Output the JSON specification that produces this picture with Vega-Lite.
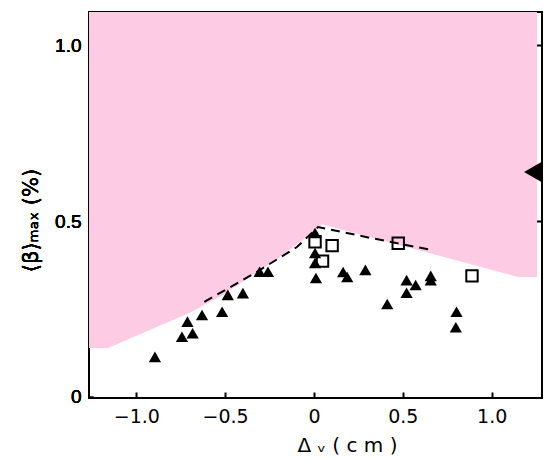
{
  "$schema": "https://vega.github.io/schema/vega-lite/v6.json",
  "autosize": "none",
  "width": 453,
  "height": 386,
  "padding": {"left": 89, "top": 12, "right": 3, "bottom": 61},
  "background": "white",
  "config": {
    "view": {"stroke": "black", "strokeWidth": 2},
    "axis": {"grid": false, "domain": false, "tickColor": "black", "labelColor": "black", "titleColor": "black"}
  },
  "datasets": {
    "stable": [
      {"dv": -1.266, "beta": 0.139},
      {"dv": -1.159, "beta": 0.139},
      {"dv": -0.698, "beta": 0.239},
      {"dv": -0.512, "beta": 0.290},
      {"dv": -0.343, "beta": 0.347},
      {"dv": -0.191, "beta": 0.398},
      {"dv": -0.039, "beta": 0.455},
      {"dv": 0.045, "beta": 0.491},
      {"dv": 1.148, "beta": 0.341},
      {"dv": 1.255, "beta": 0.341}
    ],
    "envelope": [
      {"dv": -0.617, "beta": 0.270},
      {"dv": -0.323, "beta": 0.355},
      {"dv": -0.096, "beta": 0.426},
      {"dv": 0.023, "beta": 0.483},
      {"dv": 0.317, "beta": 0.452},
      {"dv": 0.657, "beta": 0.418}
    ],
    "triangles": [
      {"dv": -0.895, "beta": 0.114},
      {"dv": -0.743, "beta": 0.171},
      {"dv": -0.683, "beta": 0.181},
      {"dv": -0.712, "beta": 0.214},
      {"dv": -0.630, "beta": 0.233},
      {"dv": -0.517, "beta": 0.242},
      {"dv": -0.485, "beta": 0.290},
      {"dv": -0.400, "beta": 0.295},
      {"dv": -0.306, "beta": 0.356},
      {"dv": -0.259, "beta": 0.356},
      {"dv": 0.006, "beta": 0.466},
      {"dv": 0.006, "beta": 0.409},
      {"dv": 0.006, "beta": 0.381},
      {"dv": 0.011, "beta": 0.338},
      {"dv": 0.164, "beta": 0.355},
      {"dv": 0.187, "beta": 0.341},
      {"dv": 0.289, "beta": 0.361},
      {"dv": 0.412, "beta": 0.264},
      {"dv": 0.521, "beta": 0.332},
      {"dv": 0.572, "beta": 0.318},
      {"dv": 0.521, "beta": 0.296},
      {"dv": 0.657, "beta": 0.344},
      {"dv": 0.657, "beta": 0.332},
      {"dv": 0.802, "beta": 0.242},
      {"dv": 0.798, "beta": 0.198}
    ],
    "squares": [
      {"dv": 0.006, "beta": 0.441},
      {"dv": 0.102, "beta": 0.430},
      {"dv": 0.048, "beta": 0.386},
      {"dv": 0.474, "beta": 0.437},
      {"dv": 0.889, "beta": 0.344}
    ],
    "marker": [
      {"dv": 1.232, "beta": 0.639}
    ]
  },
  "encoding": {
    "x": {
      "field": "dv", "type": "quantitative",
      "scale": {"domain": [-1.266, 1.283], "nice": false, "zero": false},
      "axis": {
        "orient": "bottom",
        "values": [-1, -0.5, 0, 0.5, 1],
        "labelExpr": "datum.value == 0 ? '0' : format(datum.value, '.1f')",
        "tickSize": -6, "tickWidth": 2,
        "labelFont": "DejaVu Sans", "labelFontSize": 19, "labelPadding": 15,
        "title": "Δ ᵥ ( c m )", "titleFont": "DejaVu Sans", "titleFontSize": 20, "titleFontWeight": "normal",
        "titleX": 258, "titleY": 47, "titleBaseline": "middle"
      }
    },
    "y": {
      "field": "beta", "type": "quantitative",
      "scale": {"domain": [-0.003, 1.094], "nice": false, "zero": false},
      "axis": {
        "orient": "left",
        "values": [0, 0.5, 1],
        "labelExpr": "datum.value == 0 ? '0' : format(datum.value, '.1f')",
        "tickSize": -4, "tickWidth": 1.5,
        "labelFont": "Liberation Sans", "labelFontSize": 19, "labelFontWeight": "normal", "labelPadding": 12,
        "title": "⟨β⟩ₘₐₓ (%)", "titleFont": "DejaVu Sans", "titleFontSize": 21, "titleFontWeight": "normal",
        "titleX": -58, "titleY": 208, "titleBaseline": "middle", "titleAlign": "center", "titleAngle": -90
      }
    }
  },
  "layer": [
    {
      "data": {"name": "stable"},
      "mark": {"type": "area", "color": "#fecbe4", "interpolate": "linear"},
      "encoding": {"y2": {"datum": 1.094}}
    },
    {
      "data": {"name": "envelope"},
      "mark": {"type": "line", "color": "black", "strokeWidth": 2, "strokeDash": [9, 6]},
      "encoding": {}
    },
    {
      "data": {"name": "triangles"},
      "mark": {"type": "point", "shape": "triangle-up", "filled": true, "color": "black", "opacity": 1, "size": 150}
    },
    {
      "data": {"name": "squares"},
      "mark": {"type": "point", "shape": "square", "filled": false, "color": "black", "fill": "white", "fillOpacity": 0, "opacity": 1, "strokeWidth": 2, "size": 130}
    },
    {
      "data": {"name": "marker"},
      "mark": {"type": "point", "shape": "triangle-left", "filled": true, "color": "black", "opacity": 1, "size": 420}
    },
    {
      "data": {"name": "marker"},
      "mark": {"type": "point", "opacity": 0},
      "encoding": {
        "y": {
          "field": "beta", "type": "quantitative",
          "scale": {"domain": [-0.003, 1.094], "nice": false, "zero": false},
          "axis": {"orient": "right", "values": [0.5, 1], "labels": false, "title": null, "tickSize": -6, "tickWidth": 2}
        }
      }
    }
  ]
}
